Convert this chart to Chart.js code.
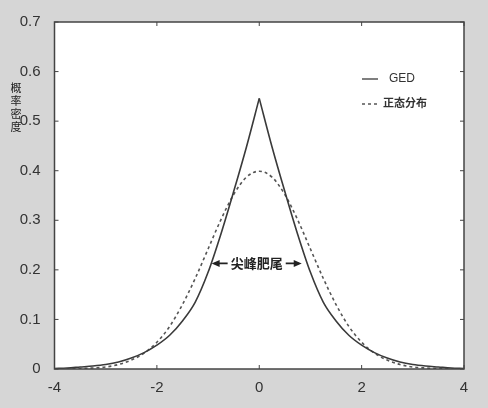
<!DOCTYPE html>
<html>
<head>
<meta charset="utf-8">
<script src="https://cdn.jsdelivr.net/npm/chart.js@4.4.1/dist/chart.umd.min.js"></script>
<style>
  html, body { margin: 0; padding: 0; background: #d6d6d6; }
  #wrap { width: 488px; height: 408px; }
</style>
</head>
<body>
<div id="wrap"><canvas id="grafico" width="488" height="408"></canvas></div>
<script>
// datos
const xs = [-4, -3.75, -3.5, -3.25, -3, -2.75, -2.5, -2.25, -2, -1.75, -1.5, -1.25, -1, -0.75, -0.5, -0.25,
            0, 0.25, 0.5, 0.75, 1, 1.25, 1.5, 1.75, 2, 2.25, 2.5, 2.75, 3, 3.25, 3.5, 3.75, 4];
const ged = [0.001, 0.002, 0.004, 0.006, 0.009, 0.014, 0.022, 0.033, 0.048, 0.068, 0.097, 0.135, 0.195, 0.272, 0.358, 0.448,
             0.546, 0.448, 0.358, 0.272, 0.195, 0.135, 0.097, 0.068, 0.048, 0.033, 0.022, 0.014, 0.009, 0.006, 0.004, 0.002, 0.001];
const normal = [0.0001, 0.0004, 0.001, 0.002, 0.004, 0.009, 0.018, 0.032, 0.054, 0.086, 0.130, 0.183, 0.242, 0.301, 0.352, 0.387,
                0.399, 0.387, 0.352, 0.301, 0.242, 0.183, 0.130, 0.086, 0.054, 0.032, 0.018, 0.009, 0.004, 0.002, 0.001, 0.0004, 0.0001];
const xTicks = [-4, -2, 0, 2, 4];
const yTicks = [0, 0.1, 0.2, 0.3, 0.4, 0.5, 0.6, 0.7];
const nombres = ['GED', '正态分布'];
const tituloY = '概率密度';
const anotacion = '尖峰肥尾';
const anotX = [-0.93, 0.83];
const anotY = 0.213;

const fuente = '"Liberation Sans", Arial, sans-serif';
const fuenteCJK = '"Noto Sans CJK SC", "Noto Sans", sans-serif';
const colorGed = '#3a3a3a';
const colorNormal = '#555555';

// el pico de GED es agudo: se dibuja en dos mitades que comparten x = 0
const centro = xs.indexOf(0);
const puntos = (ys, desde, hasta) => xs.slice(desde, hasta).map((x, i) => ({ x, y: ys[desde + i] }));

// fondo blanco, marco, ticks hacia adentro, leyenda y anotacion
const extras = {
    id: 'extras',
    beforeDatasetsDraw(chart) {
        const { ctx, chartArea: a } = chart;
        ctx.save();
        ctx.fillStyle = '#ffffff';
        ctx.fillRect(a.left, a.top, a.right - a.left, a.bottom - a.top);
        ctx.restore();
    },
    afterDraw(chart) {
        const { ctx, chartArea: a, scales } = chart;
        ctx.save();
        ctx.strokeStyle = '#444';
        ctx.lineWidth = 1.5;
        ctx.strokeRect(a.left, a.top, a.right - a.left, a.bottom - a.top);

        // ticks
        ctx.lineWidth = 1;
        const len = 4;
        yTicks.forEach(v => {
            const y = scales.y.getPixelForValue(v);
            ctx.beginPath();
            ctx.moveTo(a.left, y); ctx.lineTo(a.left + len, y);
            ctx.moveTo(a.right, y); ctx.lineTo(a.right - len, y);
            ctx.stroke();
        });
        xTicks.forEach(v => {
            const x = scales.x.getPixelForValue(v);
            ctx.beginPath();
            ctx.moveTo(x, a.bottom); ctx.lineTo(x, a.bottom - len);
            ctx.moveTo(x, a.top); ctx.lineTo(x, a.top + len);
            ctx.stroke();
        });

        // titulo eje y, caracteres apilados
        ctx.fillStyle = '#222';
        ctx.font = '11px ' + fuenteCJK;
        ctx.textAlign = 'center';
        ctx.textBaseline = 'middle';
        [...tituloY].forEach((c, i) => ctx.fillText(c, 16, 88 + i * 13));

        // leyenda
        const estilos = [
            { color: colorGed, dash: [] },
            { color: colorNormal, dash: [3, 3] }
        ];
        const filas = [79, 103];
        estilos.forEach((e, i) => {
            ctx.strokeStyle = e.color;
            ctx.lineWidth = 1.3;
            ctx.setLineDash(e.dash);
            ctx.beginPath();
            ctx.moveTo(362, filas[i] + (i ? 1 : 0));
            ctx.lineTo(378, filas[i] + (i ? 1 : 0));
            ctx.stroke();
            ctx.setLineDash([]);
            ctx.fillStyle = '#333';
            ctx.textAlign = 'left';
            ctx.font = (i ? 'bold 11px ' + fuenteCJK : '12px ' + fuente);
            ctx.fillText(nombres[i], i ? 383 : 389, filas[i]);
        });

        // anotacion con flechas
        const x1 = scales.x.getPixelForValue(anotX[0]);
        const x2 = scales.x.getPixelForValue(anotX[1]);
        const y = scales.y.getPixelForValue(anotY);
        ctx.strokeStyle = '#222';
        ctx.fillStyle = '#222';
        ctx.lineWidth = 1.6;
        ctx.beginPath();
        ctx.moveTo(x1 + 3, y); ctx.lineTo(x1 + 16, y);
        ctx.moveTo(x2 - 3, y); ctx.lineTo(x2 - 16, y);
        ctx.stroke();
        ctx.beginPath();
        ctx.moveTo(x1, y); ctx.lineTo(x1 + 8, y - 3.5); ctx.lineTo(x1 + 8, y + 3.5); ctx.closePath();
        ctx.moveTo(x2, y); ctx.lineTo(x2 - 8, y - 3.5); ctx.lineTo(x2 - 8, y + 3.5); ctx.closePath();
        ctx.fill();
        ctx.font = 'bold 13px ' + fuenteCJK;
        ctx.textAlign = 'center';
        ctx.fillText(anotacion, (x1 + x2) / 2, y);
        ctx.restore();
    }
};

const ctx = document.getElementById('grafico').getContext('2d');
new Chart(ctx, {
    type: 'line',
    data: {
        datasets: [
            {
                label: nombres[0],
                data: puntos(ged, 0, centro + 1),
                borderColor: colorGed,
                borderWidth: 1.6,
                pointRadius: 0,
                cubicInterpolationMode: 'monotone'
            },
            {
                label: nombres[0],
                data: puntos(ged, centro, xs.length),
                borderColor: colorGed,
                borderWidth: 1.6,
                pointRadius: 0,
                cubicInterpolationMode: 'monotone'
            },
            {
                label: nombres[1],
                data: puntos(normal, 0, xs.length),
                borderColor: colorNormal,
                borderWidth: 1.6,
                borderDash: [3, 3],
                pointRadius: 0,
                cubicInterpolationMode: 'monotone'
            }
        ]
    },
    options: {
        responsive: false,
        animation: false,
        layout: { padding: { left: 0, top: 22, right: 24, bottom: 0 } },
        plugins: { legend: { display: false }, tooltip: { enabled: false } },
        scales: {
            x: {
                type: 'linear',
                min: -4, max: 4,
                afterFit: s => { s.height = 39; },
                afterBuildTicks: s => { s.ticks = xTicks.map(v => ({ value: v })); },
                grid: { display: false },
                border: { display: false },
                ticks: { color: '#333', font: { family: fuente, size: 15 }, padding: 2, maxRotation: 0 }
            },
            y: {
                min: 0, max: 0.7,
                afterFit: s => { s.width = 54.5; },
                afterBuildTicks: s => { s.ticks = yTicks.map(v => ({ value: v })); },
                grid: { display: false },
                border: { display: false },
                ticks: { color: '#333', font: { family: fuente, size: 15 }, padding: 6,
                         callback: v => String(Math.round(v * 10) / 10) }
            }
        }
    },
    plugins: [extras]
});
</script>
</body>
</html>
